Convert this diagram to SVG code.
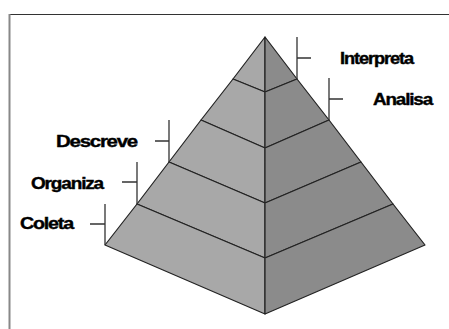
<svg xmlns="http://www.w3.org/2000/svg" width="449" height="329" viewBox="0 0 449 329">
<style>
.l{fill:#a8a8a8;stroke:#222;stroke-width:1.2;stroke-linejoin:round}
.r{fill:#8b8b8b;stroke:#222;stroke-width:1.2;stroke-linejoin:round}
.t{stroke:#333;stroke-width:1.3;fill:none}
.lab{font-family:"Liberation Sans",Arial,sans-serif;font-weight:bold;font-size:16.5px;fill:#000;stroke:#000;stroke-width:0.4;letter-spacing:-1px}
</style>
<rect x="0" y="0" width="449" height="329" fill="#fff"/>
<g id="frame">
<line x1="9" y1="14.5" x2="449" y2="14.5" stroke="#333" stroke-width="1.2"/>
<line x1="9.5" y1="14" x2="9.5" y2="329" stroke="#888" stroke-width="2"/>
</g>
<g id="tier1">
<polygon class="l" points="265,37 233,79 265,92"/>
<polygon class="r" points="265,37 265,92 297,79"/>
</g>
<g id="tier2">
<polygon class="l" points="233,79 201,120 265,148 265,92"/>
<polygon class="r" points="265,92 265,148 329,120 297,79"/>
</g>
<g id="tier3">
<polygon class="l" points="201,120 169,162 265,203 265,148"/>
<polygon class="r" points="265,148 265,203 361,162 329,120"/>
</g>
<g id="tier4">
<polygon class="l" points="169,162 137,204 265,258 265,203"/>
<polygon class="r" points="265,203 265,258 393,204 361,162"/>
</g>
<g id="tier5">
<polygon class="l" points="137,204 105,245 265,314 265,258"/>
<polygon class="r" points="265,258 265,314 425,245 393,204"/>
</g>
<g id="connectors">
<path class="t" d="M297,37 V79 M297,58 H311"/>
<path class="t" d="M329,78 V120 M329,99 H343"/>
<path class="t" d="M169,120 V162 M155,141 H169"/>
<path class="t" d="M137,162 V204 M122,182 H137"/>
<path class="t" d="M105,204 V245 M90,224 H105"/>
</g>
<g id="label-interpreta"><text class="lab" x="340" y="64" textLength="73" lengthAdjust="spacingAndGlyphs">Interpreta</text></g>
<g id="label-analisa"><text class="lab" x="373" y="104.5" textLength="59" lengthAdjust="spacingAndGlyphs">Analisa</text></g>
<g id="label-descreve"><text class="lab" x="56" y="146.5" textLength="81" lengthAdjust="spacingAndGlyphs">Descreve</text></g>
<g id="label-organiza"><text class="lab" x="31" y="188.5" textLength="72" lengthAdjust="spacingAndGlyphs">Organiza</text></g>
<g id="label-coleta"><text class="lab" x="20" y="228.5" textLength="53" lengthAdjust="spacingAndGlyphs">Coleta</text></g>
</svg>
